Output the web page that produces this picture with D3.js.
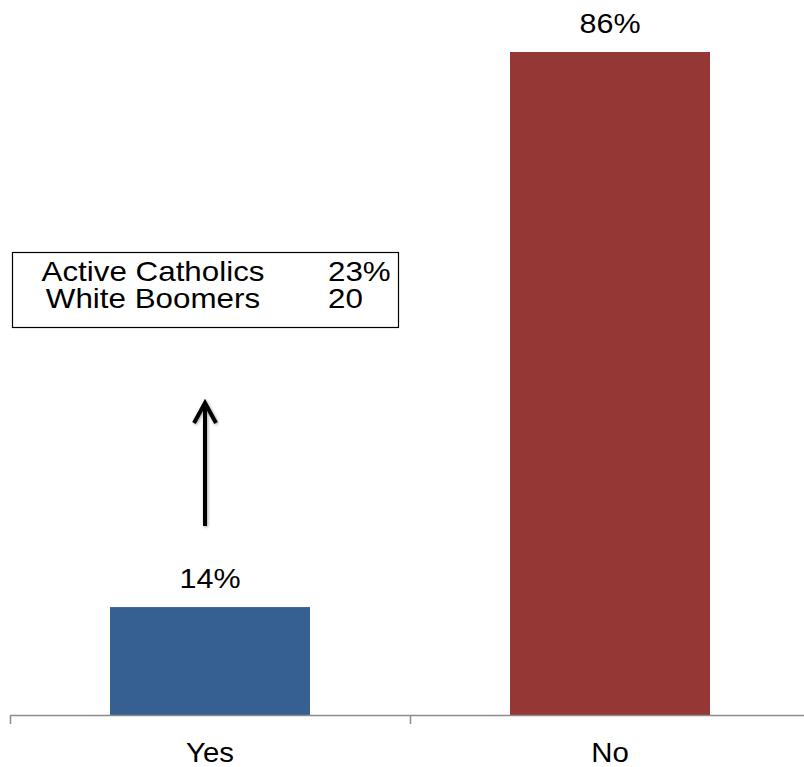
<!DOCTYPE html>
<html><head><meta charset="utf-8">
<script src="https://cdn.jsdelivr.net/npm/d3@7"></script>
<style>body{margin:0;background:#fff}svg{display:block}text{font-family:Arial,"Liberation Sans",sans-serif;fill:#000}</style>
</head><body><svg id="c" width="804" height="767"></svg>
<script>
const categories = ["Yes","No"];
const values = [14, 86];
const valueLabels = ["14%","86%"];
const colors = ["#376092","#953735"];
const boxLabels = ["Active Catholics","White Boomers"];
const boxValues = ["23%","20"];

const svg = d3.select("#c");
const x = d3.scaleBand().domain(categories).range([10, 810]).paddingInner(0.5).paddingOuter(0.25);
const y = d3.scaleLinear().domain([0, 86]).range([715, 52]);
const FS = 28;
const tf = (cx, by, sx) => `translate(${cx},${by}) scale(${sx},1)`;

svg.selectAll("rect.bar").data(values).join("rect").attr("class","bar")
  .attr("x",(d,i)=>x(categories[i])).attr("width",x.bandwidth())
  .attr("y",d=>y(d)).attr("height",d=>y(0)-y(d)).attr("fill",(d,i)=>colors[i]);

svg.selectAll("text.val").data(values).join("text").attr("class","val")
  .attr("transform",(d,i)=>tf(x(categories[i])+x.bandwidth()/2, y(d)-19, 1.09))
  .attr("text-anchor","middle").attr("font-size",FS).text((d,i)=>valueLabels[i]);

// axis
const axisG = svg.append("g");
axisG.append("line").attr("x1",10).attr("x2",804).attr("y1",715.5).attr("y2",715.5).attr("stroke","#8c8c8c").attr("stroke-width",1.5);
[10, 410, 810].forEach(t=>axisG.append("line").attr("x1",t+0.5).attr("x2",t+0.5).attr("y1",715).attr("y2",724).attr("stroke","#8c8c8c").attr("stroke-width",1.5));
svg.selectAll("text.cat").data(categories).join("text").attr("class","cat")
  .attr("transform",d=>tf(x(d)+x.bandwidth()/2, 762, 1.05))
  .attr("text-anchor","middle").attr("font-size",FS).text(d=>d);

// box
svg.append("rect").attr("x",12.5).attr("y",252.5).attr("width",386).attr("height",75).attr("fill","#fff").attr("stroke","#000").attr("stroke-width",1.2);
svg.selectAll("text.bl").data(boxLabels).join("text").attr("class","bl")
  .attr("transform",(d,i)=>tf(153, 281+i*27, 1.12)).attr("text-anchor","middle").attr("font-size",FS).text(d=>d);
svg.selectAll("text.bv").data(boxValues).join("text").attr("class","bv")
  .attr("transform",(d,i)=>tf(328, 281+i*27, 1.12)).attr("font-size",FS).text(d=>d);

// arrow
const defs = svg.append("defs");
defs.append("filter").attr("id","sh").append("feDropShadow").attr("dx",1).attr("dy",1).attr("stdDeviation",1.5).attr("flood-opacity",0.35);
const ag = svg.append("g").attr("filter","url(#sh)");
ag.append("line").attr("x1",205).attr("x2",205).attr("y1",526).attr("y2",403).attr("stroke","#000").attr("stroke-width",4);
ag.append("path").attr("d","M194,423 L205,403 L216,423").attr("fill","none").attr("stroke","#000").attr("stroke-width",4).attr("stroke-linejoin","miter");
</script></body></html>
